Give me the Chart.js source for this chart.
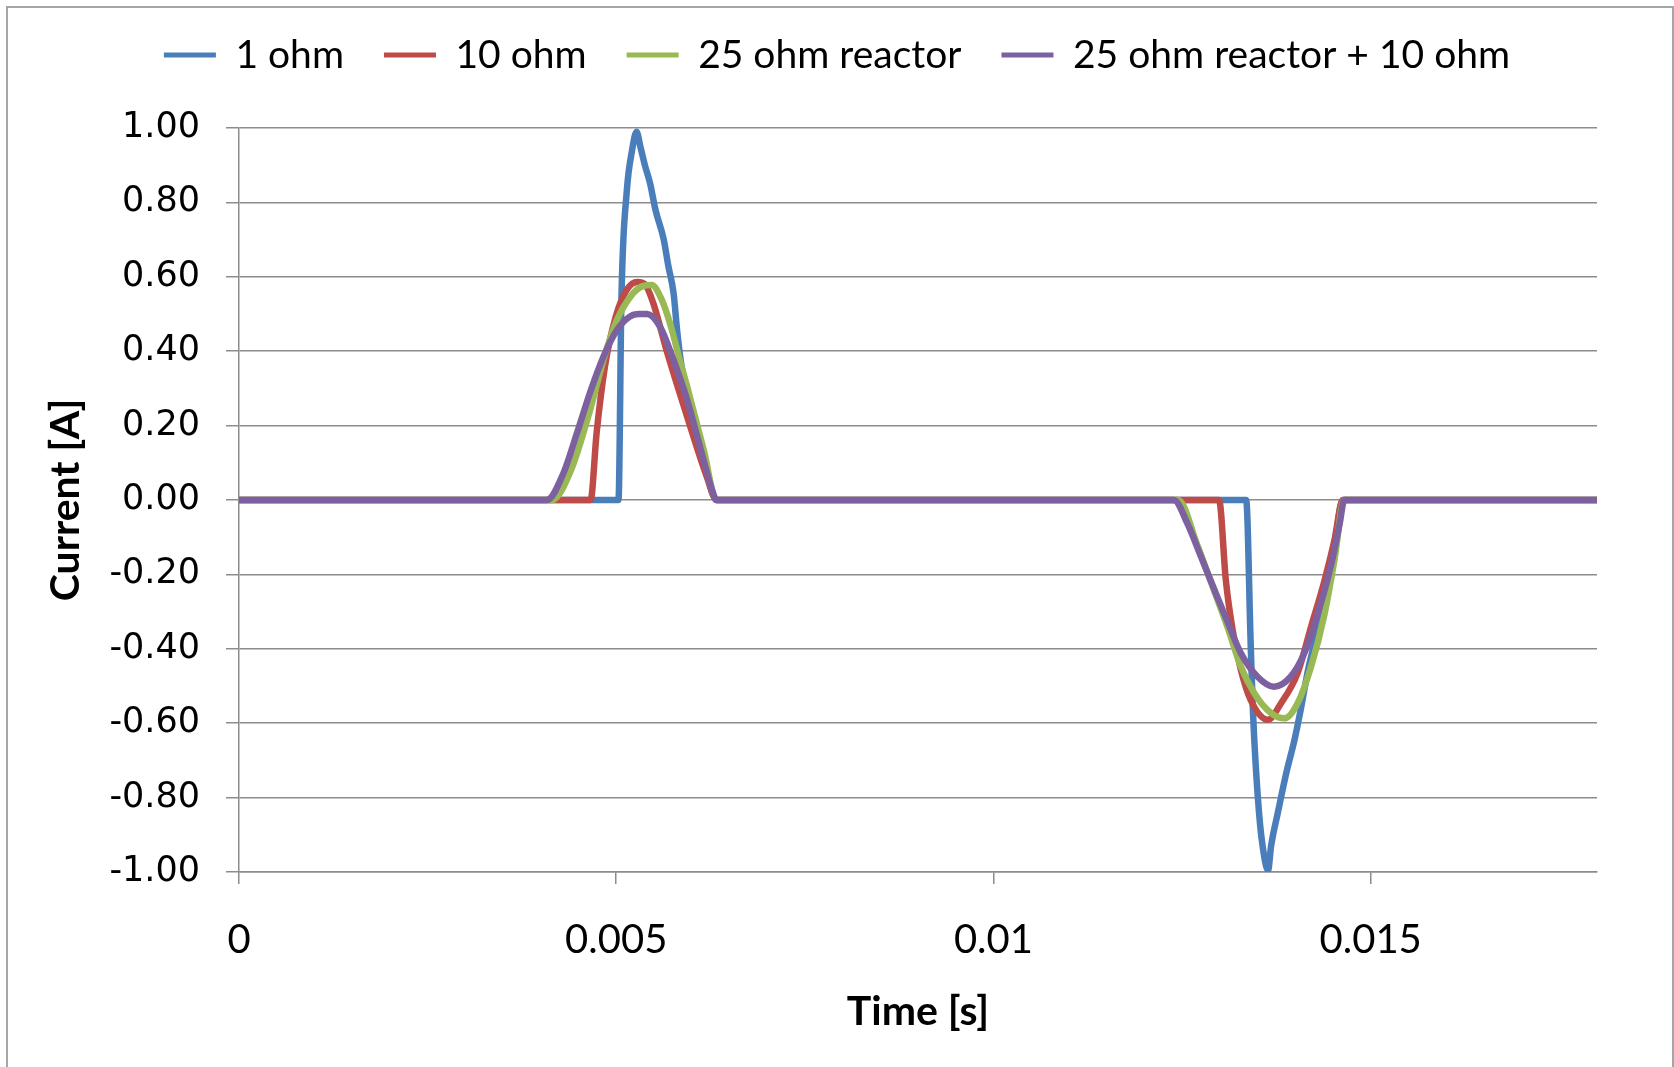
<!DOCTYPE html>
<html>
<head>
<meta charset="utf-8">
<script src="https://cdn.jsdelivr.net/npm/chart.js@4.4.0/dist/chart.umd.min.js"></script>
<style>
  html, body { margin: 0; padding: 0; background: #fff; }
  #wrap { position: relative; width: 1674px; height: 1067px; overflow: hidden; }
  #frame { position: absolute; left: 6px; top: 6px; width: 1664px; height: 1100px; border: 2px solid #a5a5a5; }
  canvas { position: absolute; left: 0; top: 0; }
</style>
</head>
<body>
<div id="wrap">
  <div id="frame"></div>
  <canvas id="currentChart" width="1674" height="1067"></canvas>
</div>
<script>
// ─── Data (time in ms, current in A) ─────────────────────────────────────────
const seriesNames = ['1 ohm', '10 ohm', '25 ohm reactor', '25 ohm reactor + 10 ohm'];

const time1ohm = [0, 5.03, 5.07, 5.14, 5.21, 5.27, 5.32, 5.38, 5.45, 5.52, 5.63, 5.69, 5.76, 5.81, 5.87, 5.94, 6.15, 6.33,
                  13.35, 13.41, 13.44, 13.52, 13.59, 13.64, 13.68, 13.77, 13.88, 13.99, 14.08, 14.17, 14.30, 14.39, 14.48, 14.55, 14.63, 18];
const current1ohm = [0, 0, 0.55, 0.83, 0.94, 0.99, 0.95, 0.90, 0.85, 0.78, 0.70, 0.63, 0.556, 0.45, 0.355, 0.30, 0.12, 0,
                     0, -0.39, -0.57, -0.84, -0.96, -0.995, -0.93, -0.84, -0.735, -0.645, -0.556, -0.457, -0.349, -0.27, -0.17, -0.08, 0, 0];

const time10ohm = [0, 4.66, 4.74, 4.85, 4.99, 5.14, 5.28, 5.38, 5.49, 5.67, 5.94, 6.20, 6.33,
                   12.99, 13.08, 13.17, 13.28, 13.41, 13.64, 13.81, 14.03, 14.21, 14.39, 14.52, 14.63, 18];
const current10ohm = [0, 0, 0.18, 0.358, 0.49, 0.565, 0.586, 0.58, 0.53, 0.40, 0.224, 0.063, 0,
                      0, -0.215, -0.349, -0.457, -0.538, -0.591, -0.547, -0.466, -0.341, -0.215, -0.108, 0, 0];

const timeReactor = [0, 4.15, 4.40, 4.65, 4.85, 5.00, 5.20, 5.35, 5.47, 5.60, 5.72, 5.85, 5.94, 6.16, 6.33,
                     12.45, 12.70, 12.90, 13.10, 13.28, 13.46, 13.68, 13.86, 14.03, 14.21, 14.39, 14.52, 14.65, 18];
const currentReactor = [0, 0, 0.08, 0.24, 0.39, 0.48, 0.55, 0.575, 0.578, 0.54, 0.47, 0.37, 0.305, 0.134, 0,
                        0, -0.12, -0.23, -0.34, -0.448, -0.52, -0.573, -0.587, -0.547, -0.448, -0.305, -0.161, 0, 0];

const timeReactor10 = [0, 4.08, 4.30, 4.48, 4.65, 4.83, 5.01, 5.18, 5.30, 5.41, 5.58, 5.76, 5.94, 6.11, 6.27, 6.33,
                       12.39, 12.57, 12.75, 12.93, 13.11, 13.28, 13.50, 13.72, 13.94, 14.12, 14.30, 14.48, 14.59, 14.65, 18];
const currentReactor10 = [0, 0, 0.072, 0.18, 0.287, 0.385, 0.457, 0.493, 0.50, 0.50, 0.466, 0.376, 0.269, 0.143, 0.027, 0,
                          0, -0.063, -0.152, -0.242, -0.331, -0.412, -0.475, -0.502, -0.475, -0.412, -0.305, -0.170, -0.063, 0, 0];

const xTicks = [0, 0.005, 0.01, 0.015];
const xTickLabels = ['0', '0.005', '0.01', '0.015'];
const yTicks = [-1, -0.8, -0.6, -0.4, -0.2, 0, 0.2, 0.4, 0.6, 0.8, 1];
const yTickLabels = ['-1.00', '-0.80', '-0.60', '-0.40', '-0.20', '0.00', '0.20', '0.40', '0.60', '0.80', '1.00'];

// ─── Styling ─────────────────────────────────────────────────────────────────
const lineColors = ['#4a7ebb', '#be4b48', '#98b954', '#7d60a0'];
const gridColor = '#8c8c8c';

function toPoints(times, values) {
    return times.map((t, i) => ({ x: t / 1000, y: values[i] }));
}

const seriesData = [
    toPoints(time1ohm, current1ohm),
    toPoints(time10ohm, current10ohm),
    toPoints(timeReactor, currentReactor),
    toPoints(timeReactor10, currentReactor10)
];

const datasets = seriesNames.map((name, i) => ({
    label: name,
    data: seriesData[i],
    borderColor: lineColors[i],
    backgroundColor: lineColors[i],
    borderWidth: 6.5,
    borderJoinStyle: 'round',
    borderCapStyle: 'round',
    pointRadius: 0,
    cubicInterpolationMode: 'monotone',
    fill: false,
    order: seriesNames.length - 1 - i   // last series drawn on top, like Excel
}));

new Chart(document.getElementById('currentChart'), {
    type: 'line',
    data: { datasets: datasets },
    options: {
        responsive: false,
        animation: false,
        devicePixelRatio: 1,
        layout: { padding: { top: -4.5, left: 0, right: 0, bottom: 0 } },
        plugins: {
            tooltip: { enabled: false },
            legend: {
                position: 'top',
                labels: {
                    font: { family: 'Lato', size: 39 },
                    color: '#000',
                    boxWidth: 52,
                    boxHeight: 5,
                    padding: 40,
                    generateLabels: function (chart) {
                        return Chart.defaults.plugins.legend.labels.generateLabels(chart)
                            .map(l => Object.assign(l, { lineWidth: 0 }))
                            .sort((a, b) => a.datasetIndex - b.datasetIndex);
                    }
                }
            },
            // empty spacer between legend and plot area
            subtitle: {
                display: true,
                text: ' ',
                position: 'top',
                weight: 500,
                font: { size: 10 },
                padding: { top: 0, bottom: 31.5 }
            }
        },
        scales: {
            x: {
                type: 'linear',
                min: 0,
                max: 0.018,
                afterBuildTicks: s => { s.ticks = xTicks.map(v => ({ value: v })); },
                afterFit: s => { s.height = 195; },
                ticks: {
                    callback: (v, i) => xTickLabels[i],
                    font: { family: 'Lato', size: 40 },
                    color: '#000',
                    padding: 32,
                    maxRotation: 0,
                    autoSkip: false
                },
                grid: { drawOnChartArea: false, drawTicks: true, tickLength: 12, color: gridColor, lineWidth: 1.5 },
                border: { display: true, color: gridColor, width: 1.5 },
                title: {
                    display: true,
                    text: 'Time [s]',
                    font: { family: 'Lato', size: 41, weight: 'bold' },
                    color: '#000',
                    padding: { top: 0, bottom: 31 }
                }
            },
            y: {
                min: -1,
                max: 1,
                afterBuildTicks: s => { s.ticks = yTicks.map(v => ({ value: v })); },
                afterFit: s => { s.width = 239; },
                ticks: {
                    callback: (v, i) => yTickLabels[i],
                    font: { family: 'DejaVu Sans', size: 35 },
                    color: '#000',
                    padding: 26,
                    autoSkip: false
                },
                grid: { color: gridColor, lineWidth: 1.5, tickLength: 13 },
                border: { display: true, color: gridColor, width: 1.5 },
                title: {
                    display: true,
                    text: 'Current [A]',
                    font: { family: 'Lato', size: 41, weight: 'bold' },
                    color: '#000',
                    padding: { top: 41, bottom: 0 }
                }
            },
            // blank right margin
            yRight: {
                position: 'right',
                display: true,
                afterFit: s => { s.width = 77; },
                ticks: { display: false },
                grid: { drawOnChartArea: false, drawTicks: false },
                border: { display: false }
            }
        }
    }
});
</script>
</body>
</html>
